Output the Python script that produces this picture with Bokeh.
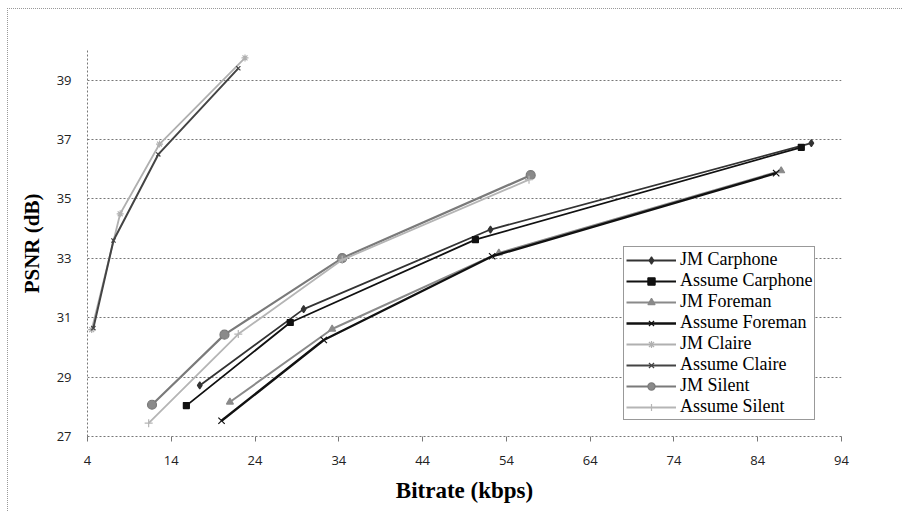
from bokeh.plotting import figure
from bokeh.models import FixedTicker, Range1d, Legend, LegendItem
from bokeh.embed import file_html
from bokeh.resources import INLINE

# ---- data ----
jm_carphone_x = [17.4, 29.8, 52.1, 90.4]
jm_carphone_y = [28.72, 31.29, 33.97, 36.88]
assume_carphone_x = [15.8, 28.2, 50.3, 89.2]
assume_carphone_y = [28.04, 30.84, 33.63, 36.74]
jm_foreman_x = [21.0, 33.2, 53.1, 86.8]
jm_foreman_y = [28.16, 30.62, 33.18, 35.95]
assume_foreman_x = [20.0, 32.2, 52.3, 86.2]
assume_foreman_y = [27.53, 30.25, 33.07, 35.87]
jm_claire_x = [4.5, 7.9, 12.6, 22.8]
jm_claire_y = [30.6, 34.5, 36.85, 39.75]
assume_claire_x = [4.7, 7.1, 12.45, 22.0]
assume_claire_y = [30.65, 33.6, 36.5, 39.4]
jm_silent_x = [11.7, 20.35, 34.4, 56.9]
jm_silent_y = [28.07, 30.43, 33.01, 35.8]
assume_silent_x = [11.3, 22.0, 34.4, 56.7]
assume_silent_y = [27.45, 30.45, 32.95, 35.65]

x_ticks = [4, 14, 24, 34, 44, 54, 64, 74, 84, 94]
y_ticks = [27, 29, 31, 33, 35, 37, 39]

p = figure(width=895, height=503, output_backend="svg", toolbar_location=None,
           x_range=Range1d(4, 94), y_range=Range1d(27, 40),
           min_border_left=79, min_border_top=41, min_border_right=62,
           min_border_bottom=76)
p.margin = (8, 0, 0, 7)
p.styles = {"border-left": "1px dotted #999", "border-top": "1px dotted #999"}
p.outline_line_color = None
p.background_fill_color = "white"
p.border_fill_color = "white"

# grids
p.xgrid.visible = False
p.ygrid.ticker = FixedTicker(ticks=y_ticks)
p.ygrid.grid_line_color = "#777777"
p.ygrid.grid_line_dash = "2 2"
p.ygrid.grid_line_width = 1

# axes
p.xaxis.ticker = FixedTicker(ticks=x_ticks)
p.yaxis.ticker = FixedTicker(ticks=y_ticks)
for ax in (p.xaxis[0], p.yaxis[0]):
    ax.axis_line_color = "#777777"
    ax.axis_line_dash = "2 2"
    ax.major_label_text_font = "Open Sans"
    ax.major_label_text_font_size = "13px"
    ax.major_label_text_color = "#222222"
    ax.minor_tick_line_color = None
    ax.axis_label_text_font = "Liberation Serif"
    ax.axis_label_text_font_style = "bold"
    ax.axis_label_text_color = "black"

p.xaxis.major_tick_in = 0
p.xaxis.major_tick_out = 5
p.xaxis.major_tick_line_color = "#777777"
p.xaxis.major_label_standoff = 14
p.xaxis.axis_label = "Bitrate (kbps)"
p.xaxis.axis_label_text_font_size = "23px"
p.xaxis.axis_label_standoff = 10

p.yaxis.major_tick_in = 0
p.yaxis.major_tick_out = 0
p.yaxis.major_label_standoff = 16
p.yaxis.axis_label = "PSNR (dB)"
p.yaxis.axis_label_text_font_size = "21px"
p.yaxis.axis_label_standoff = 10

series = [
    ("JM Carphone", jm_carphone_x, jm_carphone_y, "#333333", 1.8, "diamond", 7, "#333333"),
    ("Assume Carphone", assume_carphone_x, assume_carphone_y, "#111111", 1.8, "square", 6, "#111111"),
    ("JM Foreman", jm_foreman_x, jm_foreman_y, "#8a8a8a", 2.0, "triangle", 7, "#8a8a8a"),
    ("Assume Foreman", assume_foreman_x, assume_foreman_y, "#111111", 2.4, "x", 9, "#111111"),
    ("JM Claire", jm_claire_x, jm_claire_y, "#b0b0b0", 1.8, "asterisk", 7, "#b0b0b0"),
    ("Assume Claire", assume_claire_x, assume_claire_y, "#444444", 2.0, "x", 6, "#444444"),
    ("JM Silent", jm_silent_x, jm_silent_y, "#7a7a7a", 2.2, "circle", 9, "#8a8a8a"),
    ("Assume Silent", assume_silent_x, assume_silent_y, "#b5b5b5", 1.8, "cross", 8, "#b5b5b5"),
]

items = []
for name, xs, ys, color, lw, marker, size, fill in series:
    r1 = p.line(xs, ys, line_color=color, line_width=lw)
    r2 = p.scatter(xs, ys, marker=marker, size=size, line_color=color,
                   fill_color=fill, line_width=1.2)
    items.append(LegendItem(label=name, renderers=[r1, r2]))

legend = Legend(items=items, location=(536, 16))
legend.label_text_font = "Liberation Serif"
legend.label_text_font_size = "18px"
legend.label_text_color = "black"
legend.glyph_width = 50
legend.glyph_height = 18
legend.label_height = 18
legend.label_standoff = 4
legend.spacing = 0
legend.padding = 2
legend.margin = 0
legend.border_line_color = "#333333"
legend.border_line_width = 1
legend.background_fill_color = "white"
legend.background_fill_alpha = 1.0
p.add_layout(legend)

open("out.html", "w").write(file_html(p, INLINE))
